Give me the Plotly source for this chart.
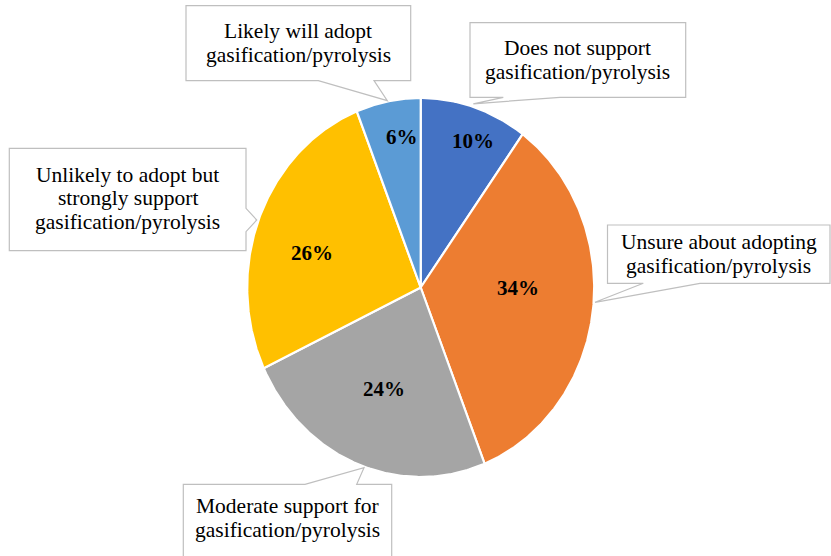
import math
import plotly.graph_objects as go

# Survey response shares (percent), clockwise from 12 o'clock
categories = [
    "Does not support gasification/pyrolysis",
    "Unsure about adopting gasification/pyrolysis",
    "Moderate support for gasification/pyrolysis",
    "Unlikely to adopt but strongly support gasification/pyrolysis",
    "Likely will adopt gasification/pyrolysis",
]
shares = [10, 34, 24, 26, 6]
colors = ["#4472C4", "#ED7D31", "#A5A5A5", "#FFC000", "#5B9BD5"]

# Wrapped callout text for each category
callout_lines = [
    ["Does not support", "gasification/pyrolysis"],
    ["Unsure about adopting", "gasification/pyrolysis"],
    ["Moderate support for", "gasification/pyrolysis"],
    ["Unlikely to adopt but", "strongly support", "gasification/pyrolysis"],
    ["Likely will adopt", "gasification/pyrolysis"],
]

W, H = 831, 556
CX, CY, RX, RY = 420.7, 287.5, 173.5, 189.5
SERIF = "Liberation Serif"

# label placement inside each wedge: radial fraction and angular nudge (deg)
label_r = [0.83, 0.56, 0.575, 0.65, 0.80]
label_shift = [-3.5, 7.0, 0.0, 5.3, -3.0]

fig = go.Figure()
total = float(sum(shares))
start = 90.0
for i, (cat, v, col) in enumerate(zip(categories, shares, colors)):
    sweep = 360.0 * v / total
    end = start - sweep
    n = max(int(sweep * 2), 12)
    angs = [start + (end - start) * k / n for k in range(n + 1)]
    xs = [CX] + [CX + RX * math.cos(math.radians(a)) for a in angs] + [CX]
    ys = [CY] + [CY - RY * math.sin(math.radians(a)) for a in angs] + [CY]
    fig.add_trace(go.Scatter(
        x=xs, y=ys, mode="lines", fill="toself", fillcolor=col,
        line=dict(color="white", width=2.2), hoveron="fills",
        name=cat, text=f"{cat}: {v}%", hoverinfo="text",
    ))
    mid = math.radians((start + end) / 2 + label_shift[i])
    fig.add_annotation(
        x=CX + RX * label_r[i] * math.cos(mid),
        y=CY - RY * label_r[i] * math.sin(mid),
        text=f"<b>{v}%</b>", showarrow=False,
        font=dict(family=SERIF, size=21, color="#000000"),
        xanchor="center", yanchor="middle",
    )
    start = end

# callout boxes: (x0, y0, x1, y1), tail side, tail base (a, b), tail tip, text centre
callouts = [
    dict(box=(470.0, 22.7, 685.7, 97.3), side="bottom", base=(503.3, 560.0),
         tip=(473.3, 103.8), cx=577.8, cy=60.0),
    dict(box=(607.5, 225.0, 830.0, 283.3), side="bottom", base=(643.3, 700.0),
         tip=(595.0, 302.3), cx=718.7, cy=254.2),
    dict(box=(183.3, 484.3, 391.7, 580.0), side="top", base=(305.0, 356.7),
         tip=(364.0, 467.7), cx=287.5, cy=518.0),
    dict(box=(9.3, 148.3, 246.0, 250.7), side="right", base=(208.3, 231.7),
         tip=(256.7, 220.0), cx=127.7, cy=198.0),
    dict(box=(186.0, 5.7, 410.7, 80.7), side="bottom", base=(318.3, 374.0),
         tip=(387.3, 100.7), cx=298.3, cy=43.2),
]

LINE_GAP = 23.5
for c, lines in zip(callouts, callout_lines):
    x0, y0, x1, y1 = c["box"]
    a, b = c["base"]
    tx, ty = c["tip"]
    if c["side"] == "bottom":
        pts = [(x0, y0), (x1, y0), (x1, y1), (b, y1), (tx, ty), (a, y1), (x0, y1)]
    elif c["side"] == "top":
        pts = [(x0, y0), (a, y0), (tx, ty), (b, y0), (x1, y0), (x1, y1), (x0, y1)]
    else:
        pts = [(x0, y0), (x1, y0), (x1, a), (tx, ty), (x1, b), (x1, y1), (x0, y1)]
    path = "M " + " L ".join(f"{px:.1f},{py:.1f}" for px, py in pts) + " Z"
    fig.add_shape(type="path", path=path, xref="x", yref="y",
                  fillcolor="white", line=dict(color="#BFBFBF", width=1.2),
                  layer="above")
    n = len(lines)
    for k, line in enumerate(lines):
        fig.add_annotation(
            x=c["cx"], y=c["cy"] + (k - (n - 1) / 2) * LINE_GAP,
            text=line, showarrow=False,
            font=dict(family=SERIF, size=21.5, color="#000000"),
            xanchor="center", yanchor="middle",
        )

fig.update_layout(
    width=W, height=H,
    margin=dict(l=0, r=0, t=0, b=0),
    paper_bgcolor="white", plot_bgcolor="white",
    showlegend=False,
    font=dict(family=SERIF),
    xaxis=dict(range=[0, W], visible=False, fixedrange=True),
    yaxis=dict(range=[H, 0], visible=False, fixedrange=True),
)

fig.write_html("out.html")
